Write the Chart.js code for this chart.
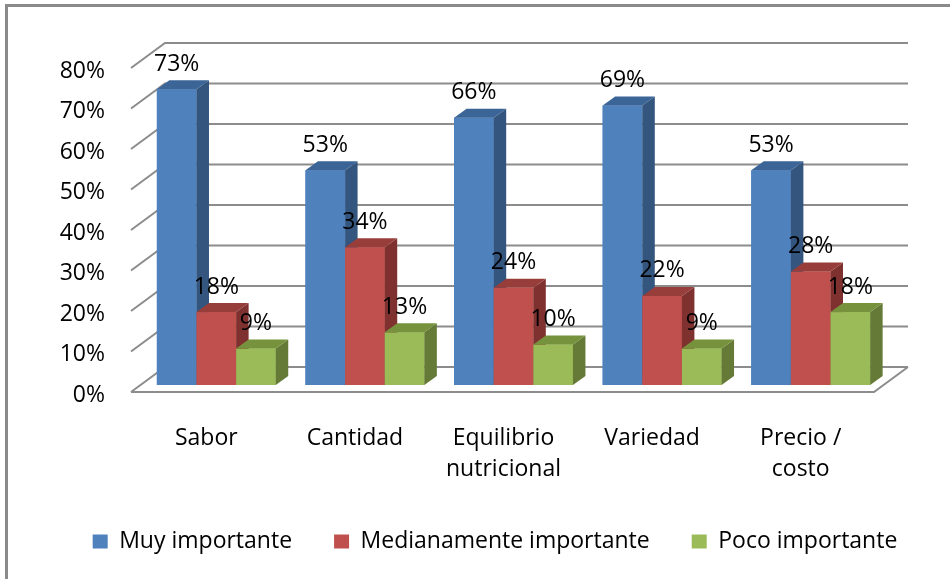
<!DOCTYPE html>
<html>
<head>
<meta charset="utf-8">
<script src="https://cdn.jsdelivr.net/npm/chart.js@4/dist/chart.umd.min.js"></script>
<style>
  html, body { margin: 0; padding: 0; background: #fff; }
</style>
</head>
<body>
<canvas id="chart" width="950" height="579"></canvas>
<script>
const categories = ["Sabor", "Cantidad", ["Equilibrio", "nutricional"], "Variedad", ["Precio /", "costo"]];
const seriesNames = ["Muy importante", "Medianamente importante", "Poco importante"];
const muyImportante = [73, 53, 66, 69, 53];
const medianamente = [18, 34, 24, 22, 28];
const pocoImportante = [9, 13, 10, 9, 18];
const yTicks = [0, 10, 20, 30, 40, 50, 60, 70, 80];

// face colours: front, side, top
const frontColors = ["#4f81bd", "#c0504d", "#9bbb59"];
const sideColors = ["#33557e", "#7f312f", "#657a36"];
const topColors = ["#3b6597", "#973e3b", "#77923d"];

const FONT = { family: "'Open Sans', 'Liberation Sans', sans-serif", size: 23 };
const LEGEND_PAD = 42;

// depth offsets (bar plane -> front plane / back wall / bar depth)
const FX = -11, FY = 7, BX = 23, BY = -18, DX = 12.5, DY = -9;

const threeD = {
    id: "threeD",
    beforeDraw(chart) {
        const ctx = chart.ctx;
        ctx.save();
        ctx.strokeStyle = "#8a8a8a";
        ctx.lineWidth = 3;
        ctx.beginPath();
        ctx.moveTo(6.5, 579);
        ctx.lineTo(6.5, 5.5);
        ctx.lineTo(950, 5.5);
        ctx.stroke();
        ctx.restore();
    },
    beforeDatasetsDraw(chart) {
        const ctx = chart.ctx;
        const a = chart.chartArea;
        const y = chart.scales.y;
        ctx.save();
        ctx.strokeStyle = "#8c8c8c";
        ctx.lineWidth = 2;
        yTicks.forEach(v => {
            const p = y.getPixelForValue(v);
            ctx.beginPath();
            ctx.moveTo(a.left + FX, p + FY);
            ctx.lineTo(a.left + BX, p + BY);
            ctx.lineTo(a.right + BX, p + BY);
            ctx.stroke();
        });
        const b = y.getPixelForValue(0);
        ctx.beginPath();
        ctx.moveTo(a.left + FX, b + FY);
        ctx.lineTo(a.right + FX, b + FY);
        ctx.lineTo(a.right + BX, b + BY);
        ctx.stroke();
        ctx.restore();
    },
    afterDatasetsDraw(chart) {
        const ctx = chart.ctx;
        const metas = chart.data.datasets.map((d, i) => chart.getDatasetMeta(i));
        ctx.save();
        for (let j = 0; j < categories.length; j++) {
            metas.forEach((meta, i) => {
                const { x, y, base, width } = meta.data[j].getProps(["x", "y", "base", "width"], true);
                const l = x - width / 2, r = x + width / 2;
                ctx.fillStyle = frontColors[i];
                ctx.fillRect(l, y, width, base - y);
                ctx.fillStyle = sideColors[i];
                ctx.beginPath();
                ctx.moveTo(r, y);
                ctx.lineTo(r + DX, y + DY);
                ctx.lineTo(r + DX, base + DY);
                ctx.lineTo(r, base);
                ctx.closePath();
                ctx.fill();
                ctx.fillStyle = topColors[i];
                ctx.beginPath();
                ctx.moveTo(l, y);
                ctx.lineTo(l + DX, y + DY);
                ctx.lineTo(r + DX, y + DY);
                ctx.lineTo(r, y);
                ctx.closePath();
                ctx.fill();
            });
        }
        ctx.fillStyle = "#000";
        ctx.font = FONT.size + "px " + FONT.family;
        ctx.textAlign = "center";
        ctx.textBaseline = "middle";
        metas.forEach((meta, i) => {
            meta.data.forEach((bar, j) => {
                const { x, y } = bar.getProps(["x", "y"], true);
                ctx.fillText(chart.data.datasets[i].data[j] + "%", x, y - 25);
            });
        });
        ctx.restore();
    }
};

new Chart(document.getElementById("chart"), {
    type: "bar",
    data: {
        labels: categories,
        datasets: [
            { label: seriesNames[0], data: muyImportante, backgroundColor: frontColors[0] },
            { label: seriesNames[1], data: medianamente, backgroundColor: frontColors[1] },
            { label: seriesNames[2], data: pocoImportante, backgroundColor: frontColors[2] }
        ]
    },
    options: {
        responsive: false,
        animation: false,
        datasets: { bar: { barPercentage: 1, categoryPercentage: 0.8, borderWidth: 0 } },
        layout: { padding: { left: 45, right: 5, top: 61, bottom: 16 } },
        scales: {
            x: {
                grid: { display: false },
                border: { display: false },
                ticks: { color: "#000", font: { ...FONT, lineHeight: 1.35 }, padding: 30, labelOffset: -10, maxRotation: 0 },
                afterFit: s => { s.height = 145 - LEGEND_PAD; }
            },
            y: {
                min: 0,
                max: 80,
                grid: { display: false },
                border: { display: false },
                ticks: { color: "#000", font: FONT, stepSize: 10, padding: 29, labelOffset: 10, callback: v => v + "%" },
                afterFit: s => { s.width = 97; }
            },
            yRight: {
                position: "right",
                grid: { display: false },
                border: { display: false },
                ticks: { display: false },
                afterFit: s => { s.width = 60; }
            }
        },
        plugins: {
            legend: {
                position: "bottom",
                labels: { color: "#000", font: FONT, boxWidth: 15, boxHeight: 14, padding: LEGEND_PAD }
            },
            tooltip: { enabled: false }
        }
    },
    plugins: [threeD]
});
</script>
</body>
</html>
